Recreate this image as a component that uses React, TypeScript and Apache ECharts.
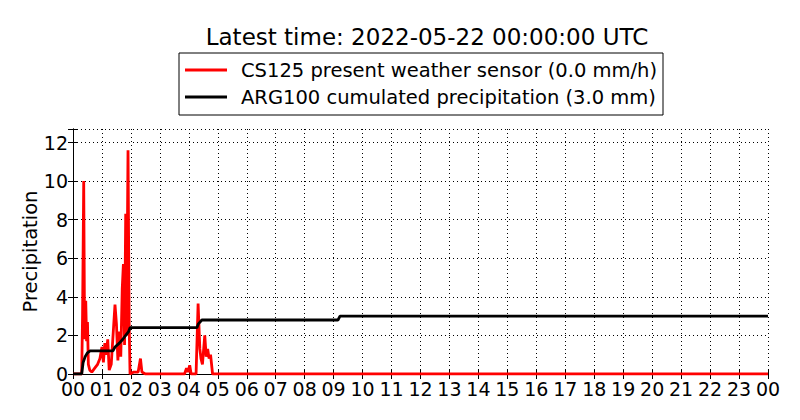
import React, { useEffect, useRef } from "react";
import * as echarts from "echarts";

const TITLE = "Latest time: 2022-05-22 00:00:00 UTC";
const SERIES_NAMES = [
  "CS125 present weather sensor (0.0 mm/h)",
  "ARG100 cumulated precipitation (3.0 mm)",
];
const Y_AXIS_NAME = "Precipitation";
const X_MIN = 0;
const X_MAX = 24;
const Y_MIN = 0;
const Y_MAX = 12.7;

// [hour, mm/h]
const cs125Rate: [number, number][] = [
  [0, 0], [0.3, 0], [0.33, 3], [0.37, 10.0], [0.4, 1.8], [0.44, 3.8], [0.47, 1.7],
  [0.5, 2.7], [0.53, 0.5], [0.58, 0.2], [0.65, 0.1], [0.75, 0.3], [0.85, 0.5],
  [0.93, 0.8], [1.0, 1.4], [1.05, 0.6], [1.1, 1.6], [1.15, 1.0], [1.2, 1.8],
  [1.25, 0.2], [1.32, 0.5], [1.45, 3.6], [1.5, 2.6], [1.55, 0.7], [1.6, 2.2],
  [1.65, 0.9], [1.7, 4.4], [1.74, 5.7], [1.78, 1.5], [1.82, 8.3], [1.85, 2.0],
  [1.9, 11.6], [1.94, 2.5], [1.97, 0], [2.1, 0.1], [2.25, 0.1], [2.33, 0.8],
  [2.38, 0.1], [2.5, 0], [3.85, 0], [3.92, 0.3], [3.97, 0.1], [4.03, 0.45],
  [4.08, 0], [4.25, 0], [4.32, 3.65], [4.38, 1.3], [4.42, 0.8], [4.47, 0.5],
  [4.55, 2.0], [4.6, 0.9], [4.65, 1.3], [4.7, 0.8], [4.75, 1.0], [4.82, 0],
  [24, 0],
];

// [hour, mm]
const arg100Cumulative: [number, number][] = [
  [0, 0], [0.3, 0], [0.35, 0.6], [0.42, 0.9], [0.5, 1.1], [0.59, 1.2],
  [1.38, 1.2], [1.45, 1.4], [1.6, 1.6], [1.72, 1.8], [1.82, 2.0], [1.92, 2.2],
  [1.97, 2.4], [4.28, 2.4], [4.33, 2.6], [4.45, 2.8], [9.15, 2.8], [9.22, 3.0],
  [24, 3.0],
];

const FONT = "DejaVu Sans";

export default function App() {
  const ref = useRef<HTMLDivElement>(null);
  useEffect(() => {
    document.body.style.margin = "0";
    if (!ref.current) return;
    const chart = echarts.init(ref.current, undefined, { renderer: "svg" });
    const hourLabel = (v: number) => {
      const h = Math.round(v) % 24;
      return (h < 10 ? "0" : "") + h;
    };
    const splitLine = { show: true, lineStyle: { color: "#000", width: 1, type: [1, 3] as any } };
    const axisLine = { show: true, lineStyle: { color: "#000", width: 1 } };
    const tick = { show: true, inside: true, length: 5, lineStyle: { color: "#000" } };
    chart.setOption({
      animation: false,
      backgroundColor: "#fff",
      textStyle: { fontFamily: FONT },
      title: {
        text: TITLE,
        left: 422,
        textAlign: "center",
        top: 20,
        textStyle: { fontFamily: FONT, fontSize: 23, fontWeight: "normal", color: "#000" },
      },
      legend: {
        data: SERIES_NAMES,
        orient: "vertical",
        left: 179,
        top: 53,
        borderColor: "#000",
        borderWidth: 1,
        padding: [7, 6, 8, 6],
        itemGap: 7,
        itemWidth: 42,
        itemHeight: 3,
        icon: "rect",
        textStyle: { fontFamily: FONT, fontSize: 19.5, color: "#000", padding: [0, 0, 0, 9] },
      },
      grid: { left: 73, right: 32, top: 129, bottom: 46 },
      xAxis: [
        {
          type: "value",
          min: X_MIN,
          max: X_MAX,
          interval: 1,
          axisLine,
          axisTick: tick,
          splitLine,
          axisLabel: {
            formatter: hourLabel,
            fontFamily: FONT,
            fontSize: 19,
            color: "#000",
            margin: 5,
          },
        },
        {
          type: "value",
          position: "top",
          min: X_MIN,
          max: X_MAX,
          interval: 1,
          axisLine,
          axisTick: tick,
          splitLine: { show: false },
          axisLabel: { show: false },
        },
      ],
      yAxis: [
        {
          type: "value",
          min: Y_MIN,
          max: Y_MAX,
          interval: 2,
          name: Y_AXIS_NAME,
          nameLocation: "middle",
          nameGap: 33,
          nameMoveOverlap: false,
          nameTextStyle: { fontFamily: FONT, fontSize: 19.5, color: "#000" },
          axisLine,
          axisTick: tick,
          splitLine,
          axisLabel: {
            formatter: (v: number) => (Math.abs(v % 2) < 1e-9 ? String(v) : ""),
            fontFamily: FONT,
            fontSize: 19,
            color: "#000",
            margin: 5,
          },
        },
        {
          type: "value",
          position: "right",
          min: Y_MIN,
          max: Y_MAX,
          interval: 2,
          axisLine,
          axisTick: tick,
          splitLine: { show: false },
          axisLabel: { show: false },
        },
      ],
      series: [
        {
          name: SERIES_NAMES[0],
          type: "line",
          data: cs125Rate,
          showSymbol: false,
          symbol: "none",
          lineStyle: { color: "#ff0000", width: 2.8 },
          itemStyle: { color: "#ff0000" },
          z: 2,
        },
        {
          name: SERIES_NAMES[1],
          type: "line",
          data: arg100Cumulative,
          showSymbol: false,
          symbol: "none",
          lineStyle: { color: "#000000", width: 2.8 },
          itemStyle: { color: "#000000" },
          z: 3,
        },
      ],
    });
    return () => chart.dispose();
  }, []);
  return <div ref={ref} style={{ width: 800, height: 420 }} />;
}
